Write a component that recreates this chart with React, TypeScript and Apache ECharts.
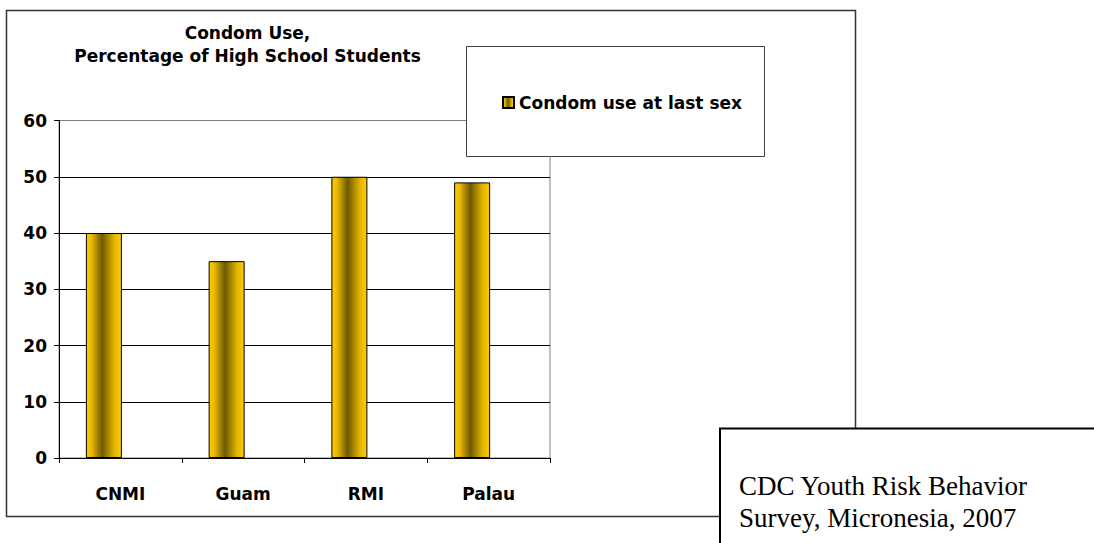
import React, { useEffect, useRef } from "react";
import * as echarts from "echarts";

const categories = ["CNMI", "Guam", "RMI", "Palau"];
const condomUse = [40, 35, 50, 49];
const spacer = ["-", "-", "-", "-"];
const yTicks = { min: 0, max: 60, interval: 10 };
const chartTitle = ["Condom Use,", "Percentage of High School Students"];
const seriesName = "Condom use at last sex";
const sourceLines = ["CDC Youth Risk Behavior", "Survey, Micronesia, 2007"];

const FONT = "'DejaVu Sans', sans-serif";

const barGradient = new echarts.graphic.LinearGradient(0, 0, 1, 0, [
  { offset: 0, color: "#FFCC00" },
  { offset: 0.15, color: "#E8B900" },
  { offset: 0.45, color: "#6E5800" },
  { offset: 0.8, color: "#E2B600" },
  { offset: 1, color: "#FFCC00" },
]);

export default function App() {
  const ref = useRef<HTMLDivElement>(null);
  useEffect(() => {
    if (!ref.current) return;
    const chart = echarts.init(ref.current, null, { renderer: "svg" });
    const gridColors = ["#000", "#000", "#000", "#000", "#000", "#000", "#808080"];
    chart.setOption({
      animation: false,
      backgroundColor: "#fff",
      grid: {
        left: 59,
        right: 544,
        top: 120.5,
        bottom: 85,
        show: true,
        borderColor: "#808080",
        borderWidth: 1,
        backgroundColor: "transparent",
      },
      legend: {
        data: [seriesName],
        left: 497,
        top: 89,
        icon: "rect",
        itemWidth: 11,
        itemHeight: 11,
        itemGap: 5,
        textStyle: { fontFamily: FONT, fontWeight: "bold", fontSize: 17, color: "#000" },
        selectedMode: false,
      },
      xAxis: {
        type: "category",
        data: categories,
        axisLine: { show: true, lineStyle: { color: "#000", width: 1 } },
        axisTick: { show: true, length: 5, inside: false, lineStyle: { color: "#000" } },
        axisLabel: { fontFamily: FONT, fontWeight: "bold", fontSize: 17, color: "#000", margin: 27 },
      },
      yAxis: {
        type: "value",
        min: yTicks.min,
        max: yTicks.max,
        interval: yTicks.interval,
        axisLine: { show: true, lineStyle: { color: "#000", width: 1 } },
        axisTick: { show: true, length: 5, inside: false, lineStyle: { color: "#000" } },
        axisLabel: { fontFamily: FONT, fontWeight: "bold", fontSize: 17, color: "#000", margin: 12 },
        splitLine: { show: true, lineStyle: { color: gridColors, width: 1 } },
      },
      series: [
        {
          name: seriesName,
          type: "bar",
          data: condomUse,
          barWidth: 36,
          barGap: "0%",
          itemStyle: { color: barGradient, borderColor: "#000", borderWidth: 1 },
        },
        {
          name: "spacer",
          type: "bar",
          data: spacer,
          barWidth: 33,
          barGap: "0%",
          itemStyle: { color: "transparent" },
        },
      ],
      graphic: [
        {
          type: "rect",
          shape: { x: 6.5, y: 10.5, width: 849, height: 506 },
          style: { fill: "none", stroke: "#333", lineWidth: 1.5 },
          z: 1,
        },
        {
          type: "rect",
          shape: { x: 466.5, y: 46.5, width: 298, height: 110 },
          style: { fill: "#fff", stroke: "#404040", lineWidth: 1 },
          z: 1,
        },
        {
          type: "text",
          x: 247.5,
          y: 33,
          style: {
            text: chartTitle[0],
            fill: "#000",
            font: `bold 17px ${FONT}`,
            align: "center",
            verticalAlign: "middle",
          },
        },
        {
          type: "text",
          x: 247.5,
          y: 55.8,
          style: {
            text: chartTitle[1],
            fill: "#000",
            font: `bold 17px ${FONT}`,
            align: "center",
            verticalAlign: "middle",
          },
        },
        {
          type: "rect",
          shape: { x: 720, y: 428.5, width: 400, height: 200 },
          style: { fill: "#fff", stroke: "#000", lineWidth: 2 },
          z: 10,
        },
        {
          type: "text",
          x: 739,
          y: 486,
          z: 11,
          style: {
            text: sourceLines[0],
            fill: "#000",
            font: "27px 'Liberation Serif', serif",
            align: "left",
            verticalAlign: "middle",
          },
        },
        {
          type: "text",
          x: 739,
          y: 518,
          z: 11,
          style: {
            text: sourceLines[1],
            fill: "#000",
            font: "27px 'Liberation Serif', serif",
            align: "left",
            verticalAlign: "middle",
          },
        },
      ],
    });
    return () => chart.dispose();
  }, []);
  return (
    <div
      ref={ref}
      style={{ position: "fixed", left: 0, top: 0, width: 1094, height: 543, background: "#fff" }}
    />
  );
}
